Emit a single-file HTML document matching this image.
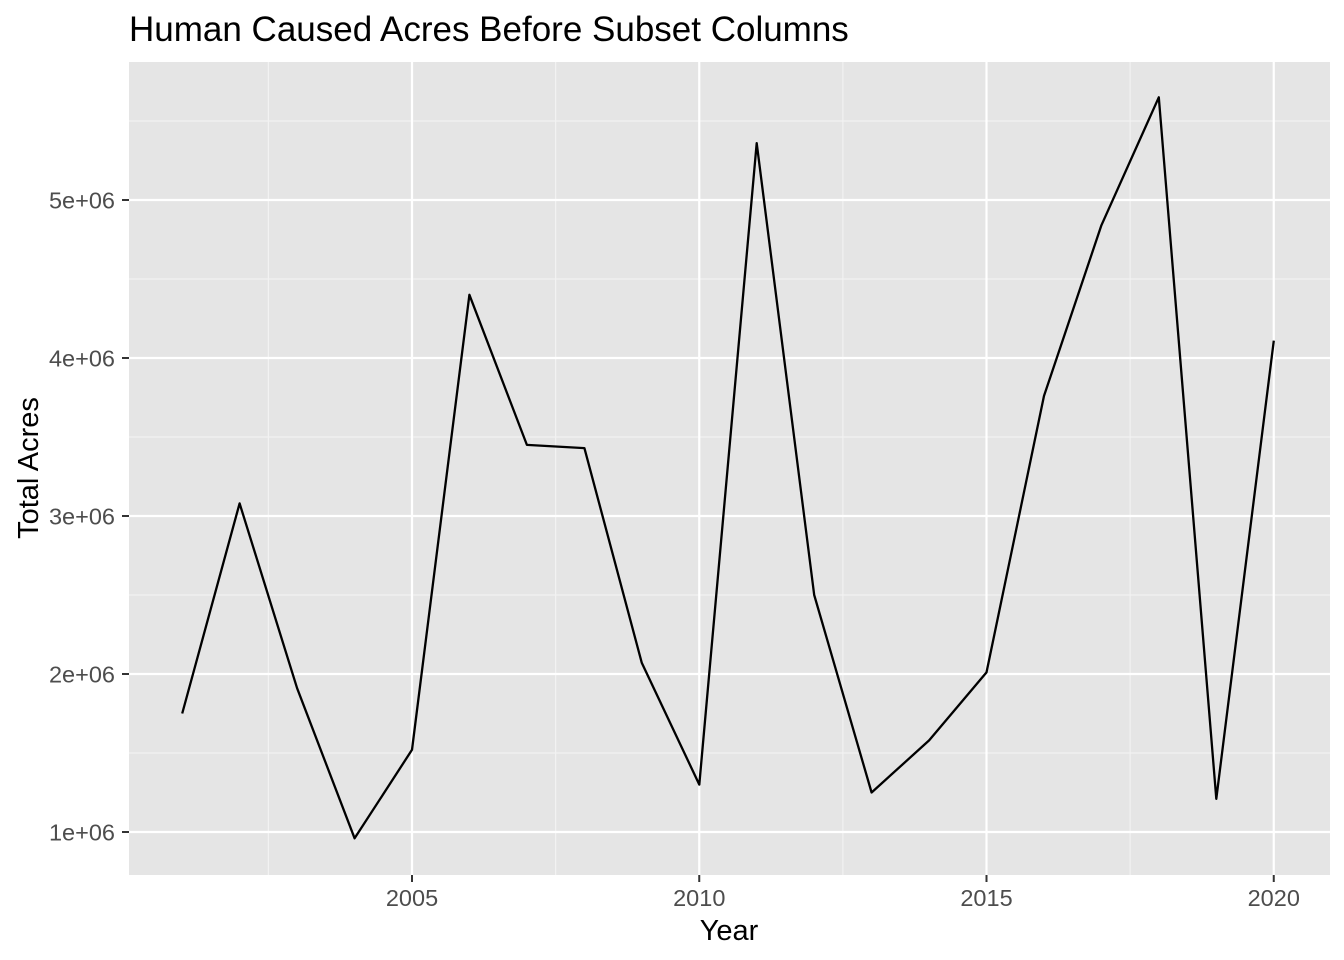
<!DOCTYPE html>
<html><head><meta charset="utf-8"><style>
html,body{margin:0;padding:0;background:#fff;}
svg{display:block;font-family:"Liberation Sans",Arial,sans-serif;}
</style></head><body>
<svg id="chart" width="1344" height="960">
<rect x="129" y="62" width="1201" height="813" fill="#e5e5e5"/>
<text x="129" y="41" font-size="35" fill="#000">Human Caused Acres Before Subset Columns</text>
<g id="grid"></g>
<g id="series"></g>
<g id="axes"></g>
<text x="729" y="940" font-size="29" text-anchor="middle" fill="#000">Year</text>
<text transform="translate(38,468) rotate(-90)" font-size="29" text-anchor="middle" fill="#000">Total Acres</text>
</svg>
<script>
const years = [2001,2002,2003,2004,2005,2006,2007,2008,2009,2010,2011,2012,2013,2014,2015,2016,2017,2018,2019,2020];
const acres = [1.75e6,3.08e6,1.91e6,0.96e6,1.52e6,4.40e6,3.45e6,3.43e6,2.07e6,1.30e6,5.36e6,2.50e6,1.25e6,1.58e6,2.01e6,3.76e6,4.84e6,5.65e6,1.21e6,4.11e6];
const xTicks = [2005,2010,2015,2020];
const xTickLabels = ["2005","2010","2015","2020"];
const yTicks = [1e6,2e6,3e6,4e6,5e6];
const yTickLabels = ["1e+06","2e+06","3e+06","4e+06","5e+06"];

const NS = "http://www.w3.org/2000/svg";
const TOP = 62, BOT = 875;
function xs(v){ return 412 + (v - 2005) * 57.45; }
function ys(v){ return 832 - (v - 1e6) * 158 / 1e6; }
function mk(tag, attrs, parent){
  const e = document.createElementNS(NS, tag);
  for (const k in attrs) e.setAttribute(k, attrs[k]);
  parent.appendChild(e);
  return e;
}
const grid = document.getElementById('grid');
const axes = document.getElementById('axes');
const series = document.getElementById('series');

for (let i = 0; i < xTicks.length; i++) {
  const mv = xTicks[i] - 2.5;
  const l = mk('line', {x1: xs(mv), x2: xs(mv), y1: TOP, y2: BOT, stroke: '#f2f2f2', 'stroke-width': 1.2}, grid);
  
  
}
for (let i = 0; i <= yTicks.length; i++) {
  const mv = (i === 0 ? yTicks[0] - 0.5e6 : yTicks[i - 1] + 0.5e6);
  const y = ys(mv);
  if (y < TOP || y > BOT) continue;
  const l = mk('line', {x1: 129, x2: 1330, y1: y, y2: y, stroke: '#f2f2f2', 'stroke-width': 1.2}, grid);
  
  
}
xTicks.forEach((t, i) => {
  const x = xs(t);
  const l = mk('line', {x1: x, x2: x, y1: TOP, y2: BOT, stroke: '#fff', 'stroke-width': 2.2}, grid);
  
  
  const tk = mk('line', {x1: x, x2: x, y1: BOT, y2: BOT + 7, stroke: '#333', 'stroke-width': 2}, axes);
  
  
  const tx = mk('text', {x: x, y: 906, 'font-size': 23.5, 'text-anchor': 'middle', fill: '#4d4d4d'}, axes);
  tx.textContent = xTickLabels[i];
  
  
});
yTicks.forEach((t, i) => {
  const y = ys(t);
  const l = mk('line', {x1: 129, x2: 1330, y1: y, y2: y, stroke: '#fff', 'stroke-width': 2.2}, grid);
  
  
  const tk = mk('line', {x1: 122, x2: 129, y1: y, y2: y, stroke: '#333', 'stroke-width': 2}, axes);
  
  
  const tx = mk('text', {x: 115, y: y + 8.5, 'font-size': 23.5, 'text-anchor': 'end', fill: '#4d4d4d'}, axes);
  tx.textContent = yTickLabels[i];
  
  
});
const pts = years.map((yr, i) => xs(yr).toFixed(1) + ',' + ys(acres[i]).toFixed(1)).join(' ');
const pl = mk('polyline', {points: pts, fill: 'none', stroke: '#000', 'stroke-width': 2.3, 'stroke-linejoin': 'round'}, series);


</script>
</body></html>
